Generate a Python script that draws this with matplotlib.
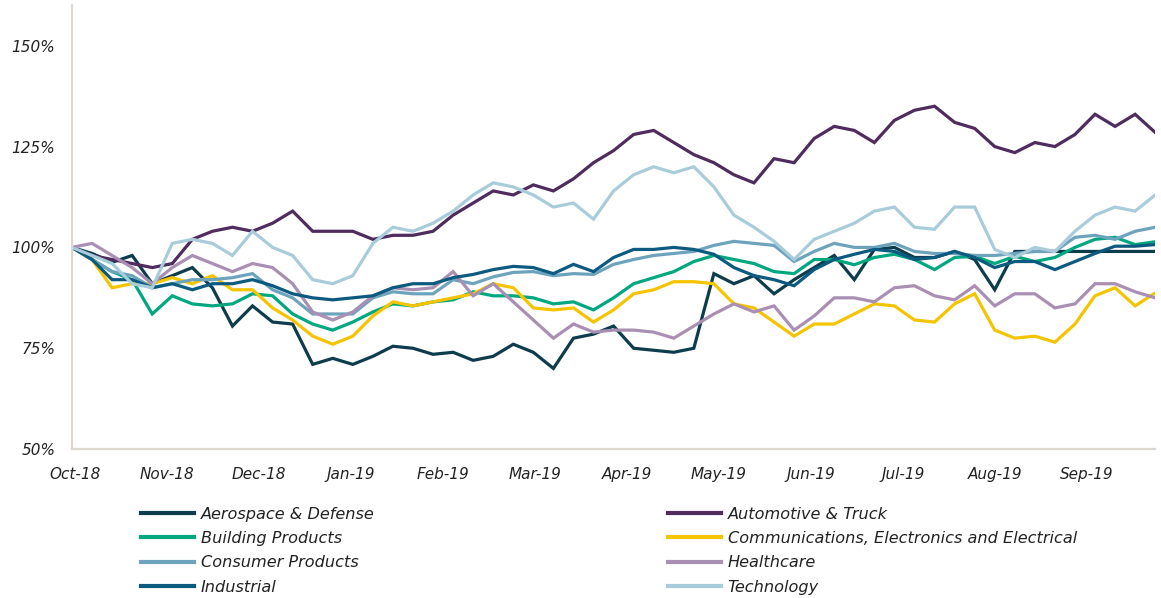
import numpy as np
import matplotlib
matplotlib.use('Agg')
import matplotlib.pyplot as plt
from matplotlib.lines import Line2D

plt.rcParams['font.family'] = ['DejaVu Sans']

meses = ['Oct-18', 'Nov-18', 'Dec-18', 'Jan-19', 'Feb-19', 'Mar-19',
         'Apr-19', 'May-19', 'Jun-19', 'Jul-19', 'Aug-19', 'Sep-19']

aerospace = [100, 98.5, 96.3, 98, 91, 93, 95, 90, 80.5, 85.5, 81.5, 81, 71, 72.5,
             71, 73, 75.5, 75, 73.5, 74, 72, 73, 76, 74, 70, 77.5, 78.5, 80.5,
             75, 74.5, 74, 75, 93.5, 91, 93, 88.5, 92, 95, 98, 92, 99.5, 100,
             97.5, 97.5, 99, 97, 89.5, 99, 99, 99, 99, 99, 99, 99, 99]
automotive = [100, 98, 97, 96, 95, 96, 102, 104, 105, 104, 106, 109, 104, 104,
              104, 102, 103, 103, 104, 108, 111, 114, 113, 115.5, 114, 117, 121,
              124, 128, 129, 126, 123, 121, 118, 116, 122, 121, 127, 130, 129,
              126, 131.5, 134, 135, 131, 129.5, 125, 123.5, 126, 125, 128, 133,
              130, 133, 128.5]
building = [100, 97, 94, 92, 83.5, 88, 86, 85.5, 86, 88.5, 88, 83.5, 81, 79.5,
            81.5, 84, 86, 85.5, 86.5, 87, 89, 88, 88, 87.5, 86, 86.5, 84.5, 87.5,
            91, 92.5, 94, 96.5, 98, 97, 96, 94, 93.5, 97, 97, 95.7, 97.5, 98.3,
            97, 94.5, 97.5, 97.8, 96, 97.8, 96.5, 97.5, 100, 102, 102.5, 100.7,
            101.4]
comms = [100, 97, 90, 91, 91, 92.5, 91, 93, 89.5, 89.5, 85, 82, 78, 76, 78, 83,
         86.5, 85.5, 86.5, 87.5, 88.5, 91, 90, 85, 84.5, 85, 81.5, 84.5, 88.5,
         89.5, 91.5, 91.5, 91, 86, 85, 81.5, 78, 81, 81, 83.5, 86, 85.5, 82,
         81.5, 86, 88.5, 79.5, 77.5, 78, 76.5, 81, 88, 90, 85.5, 88.7]
consumer = [100, 97, 94, 93, 90, 91, 92, 92, 92.5, 93.5, 89.5, 87.5, 83.5, 83.5,
            83.5, 87.5, 89, 88.5, 88.5, 92, 91, 92.7, 93.8, 94, 93, 93.5, 93.3,
            95.8, 97, 98, 98.5, 99, 100.5, 101.5, 101, 100.5, 96.5, 99, 101, 100,
            100, 101, 99, 98.5, 98.5, 98, 98, 98.5, 99, 99, 102.5, 103, 102, 104,
            105]
healthcare = [100, 101, 98, 95, 91, 95, 98, 96, 94, 96, 95, 91, 84, 82, 84, 88,
              90, 89.5, 90, 94, 88, 91, 86.5, 82, 77.5, 81, 79, 79.5, 79.5, 79,
              77.5, 80.5, 83.5, 86, 84, 85.5, 79.5, 83, 87.5, 87.5, 86.5, 90,
              90.5, 88, 87, 90.5, 85.5, 88.5, 88.5, 85, 86, 91, 91, 89, 87.5]
industrial = [100, 97, 92, 92, 90, 91, 89.5, 91, 91, 92, 90.5, 88.5, 87.5, 87,
              87.5, 88, 90, 91, 91, 92.5, 93.3, 94.5, 95.3, 95, 93.5, 95.8, 94,
              97.5, 99.5, 99.5, 100, 99.5, 98.3, 95, 93, 92, 90.5, 94.5, 97, 98.3,
              99.5, 99, 97, 97.5, 99, 97.5, 95, 96.5, 96.5, 94.5, 96.5, 98.5,
              100.3, 100.3, 100.7]
technology = [100, 98, 96, 91, 90, 101, 102, 101, 98, 104, 100, 98, 92, 91, 93,
              101, 105, 104, 106, 109, 113, 116, 115, 113, 110, 111, 107, 114, 118,
              120, 118.5, 120, 115, 108, 105, 101.5, 97, 102, 104, 106, 109, 110,
              105, 104.5, 110, 110, 99.5, 97.5, 100, 99, 104, 108, 110, 109, 113]

series = [
    ('Aerospace & Defense', aerospace, '#0d3d4d'),
    ('Automotive & Truck', automotive, '#4f2b5e'),
    ('Building Products', building, '#00a77f'),
    ('Communications, Electronics and Electrical', comms, '#f5c400'),
    ('Consumer Products', consumer, '#6da3bd'),
    ('Healthcare', healthcare, '#a98fb3'),
    ('Industrial', industrial, '#0c5a80'),
    ('Technology', technology, '#a9ccda'),
]

fig = plt.figure(figsize=(11.61, 5.98), dpi=100)
ax = fig.add_axes([0.062, 0.249, 0.933, 0.742])

x = np.arange(len(aerospace))
for nombre, valores, color in series:
    ax.plot(x, valores, color=color, lw=2.3, solid_joinstyle='miter')

ax.set_xlim(0, len(aerospace) - 1)
ax.set_ylim(50, 160)
ax.set_yticks([50, 75, 100, 125, 150])
ax.set_yticklabels(['50%', '75%', '100%', '125%', '150%'])
ax.set_xticks(np.arange(len(meses)) * 4.585 + 0.15)
ax.set_xticklabels(meses)

for s in ['top', 'right']:
    ax.spines[s].set_visible(False)
for s in ['left', 'bottom']:
    ax.spines[s].set_color('#dcd7d1')
    ax.spines[s].set_linewidth(1.6)
ax.tick_params(length=0, labelsize=11, colors='#222222')
ax.tick_params(axis='x', pad=13)
ax.tick_params(axis='y', pad=12)
for t in ax.get_xticklabels() + ax.get_yticklabels():
    t.set_style('italic')

izq = ['Aerospace & Defense', 'Building Products', 'Consumer Products', 'Industrial']
der = ['Automotive & Truck', 'Communications, Electronics and Electrical',
       'Healthcare', 'Technology']
colores = {n: c for n, _, c in series}
for nombres, xpos in [(izq, 0.1215), (der, 0.5754)]:
    handles = [Line2D([], [], color=colores[n], lw=3) for n in nombres]
    leg = fig.legend(handles, nombres, loc='upper left', bbox_to_anchor=(xpos, 0.153),
                     frameon=False, handlelength=3.3, handletextpad=0.4,
                     labelspacing=0.58, borderaxespad=0, borderpad=0,
                     prop={'size': 11.6, 'style': 'italic'})
    for t in leg.get_texts():
        t.set_color('#222222')

fig.savefig('out.png', dpi=100)
